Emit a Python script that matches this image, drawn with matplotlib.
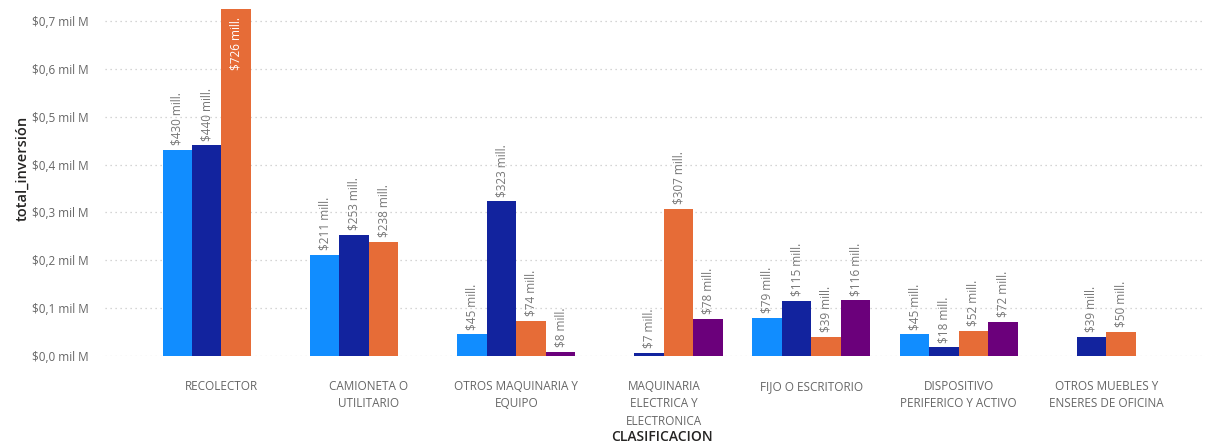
import numpy as np
import matplotlib
matplotlib.use("Agg")
import matplotlib.pyplot as plt

plt.rcParams['font.family'] = ['Open Sans', 'DejaVu Sans']

# categories and values (millions); None = no bar
categorias = ['RECOLECTOR', 'CAMIONETA O\nUTILITARIO', 'OTROS MAQUINARIA Y\nEQUIPO',
              'MAQUINARIA\nELECTRICA Y\nELECTRONICA', 'FIJO O ESCRITORIO',
              'DISPOSITIVO\nPERIFERICO Y ACTIVO', 'OTROS MUEBLES Y\nENSERES DE OFICINA']
serie_1 = [430, 211, 45, None, 79, 45, None]
serie_2 = [440, 253, 323, 7, 115, 18, 39]
serie_3 = [726, 238, 74, 307, 39, 52, 50]
serie_4 = [None, None, 8, 78, 116, 72, None]
series = [serie_1, serie_2, serie_3, serie_4]
colores = ['#118DFF', '#12239E', '#E66C37', '#6B007B']

ytop = 0.735
fig = plt.figure(figsize=(12.17, 4.46), dpi=100)
ax = fig.add_axes([105/1217, (446-356)/446, (1205-105)/1217, 351.8/446])

x = np.arange(len(categorias))
w = 0.2
for i, (vals, c) in enumerate(zip(series, colores)):
    off = (i - 1.5) * w
    for xi, v in zip(x, vals):
        if v is None:
            continue
        val = v / 1000
        ax.bar(xi + off, val, width=w, color=c, linewidth=0)
        txt = f'${v} mill.'
        if val > 0.6:
            ax.annotate(txt, (xi + off, val), xytext=(0, -6), textcoords='offset points',
                        rotation=90, ha='center', va='top', fontsize=8.5, color='white')
        else:
            ax.annotate(txt, (xi + off, val), xytext=(0, 3.5), textcoords='offset points',
                        rotation=90, ha='center', va='bottom', fontsize=8.5, color='#777777')

ax.set_xlim(-0.79, 6.67)
ax.set_ylim(0, ytop)
ticks = np.arange(0, 0.71, 0.1)
ax.set_yticks(ticks)
ax.set_yticklabels([f'${t:.1f} mil M'.replace('.', ',') for t in ticks], fontsize=8.5, color='#666666')
ax.set_xticks(x)
ax.set_xticklabels(categorias, fontsize=8.5, color='#666666', linespacing=1.45)
ax.tick_params(axis='x', length=0, pad=17)
ax.tick_params(axis='y', length=0, pad=12)
ax.grid(axis='y', color='#c8c8c8', linestyle=(0, (1, 3)), linewidth=0.9)
ax.set_axisbelow(True)
for s in ax.spines.values():
    s.set_visible(False)

fig.text(22/1217, (446-168)/446, 'total_inversión', rotation=90, ha='center', va='center',
         fontsize=10.5, color='#252423', fontweight='semibold')
fig.text(662/1217, (446-437)/446, 'CLASIFICACION', ha='center', va='center',
         fontsize=10, color='#252423', fontweight='semibold')

fig.savefig('out.png', dpi=100)
